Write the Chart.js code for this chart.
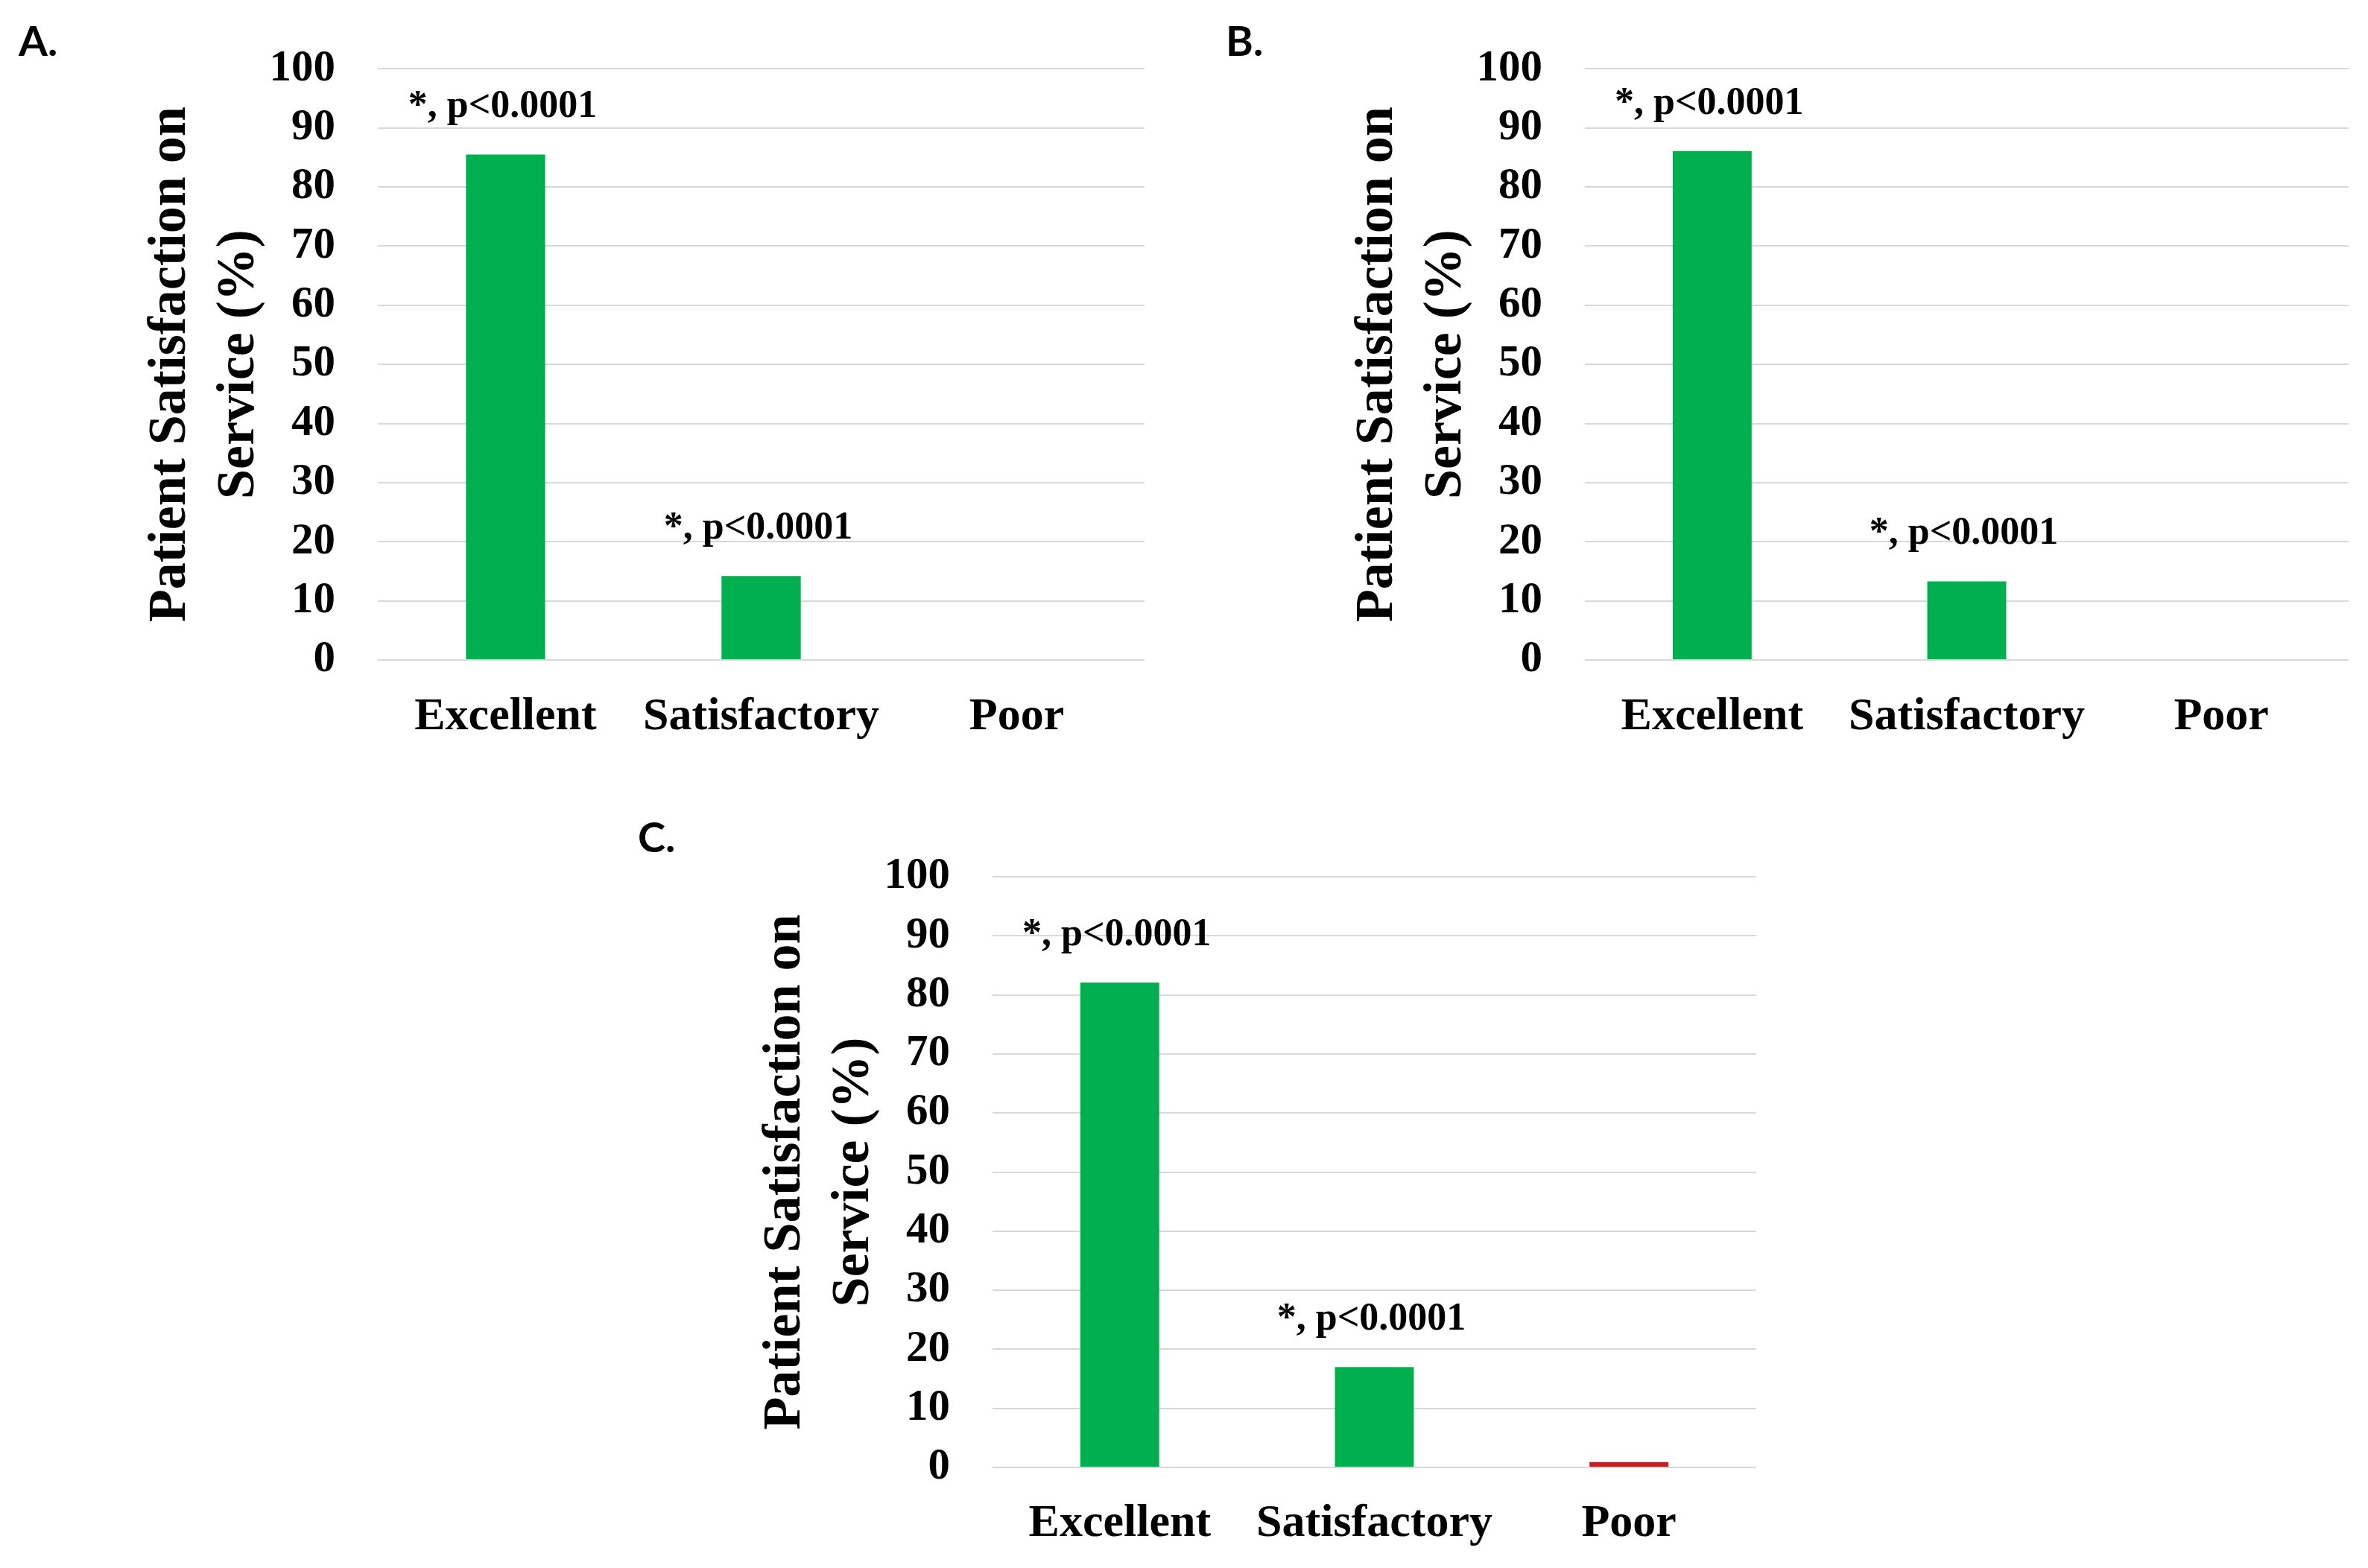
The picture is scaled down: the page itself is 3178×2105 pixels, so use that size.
<!DOCTYPE html>
<html>
<head>
<meta charset="utf-8">
<script src="https://cdn.jsdelivr.net/npm/chart.js@4.4.1/dist/chart.umd.min.js"></script>
<style>
  html, body { margin: 0; padding: 0; background: #ffffff; }
  body { width: 3178px; height: 2105px; position: relative; overflow: hidden; }
  canvas { position: absolute; }
</style>
</head>
<body>
<canvas id="chartA" width="1590" height="1050" style="left:0px;top:0px;width:1590px;height:1050px"></canvas>
<canvas id="chartB" width="1588" height="1050" style="left:1590px;top:0px;width:1588px;height:1050px"></canvas>
<canvas id="chartC" width="1600" height="1055" style="left:800px;top:1050px;width:1600px;height:1055px"></canvas>
<script>
// data
var categories = ['Excellent', 'Satisfactory', 'Poor'];
var valuesA = [85.5, 14.2, 0];
var valuesB = [86.1, 13.3, 0];
var valuesC = [82.1, 17.0, 0.9];
var barColors = ['#00b050', '#00b050', '#c81e1e'];
var pLabels = ['*, p<0.0001', '*, p<0.0001', ''];
var yTitle = ['Patient Satisfaction on', 'Service (%)'];

var serif = "'Times New Roman', 'Liberation Serif', serif";

// draws the p-value labels above bars and the panel letter
var extrasPlugin = {
    id: 'extras',
    afterDatasetsDraw: function (chart, args, opts) {
        var ctx = chart.ctx;
        var meta = chart.getDatasetMeta(0);
        ctx.save();
        ctx.fillStyle = '#000000';
        ctx.font = 'bold 52px ' + serif;
        ctx.textAlign = 'center';
        ctx.textBaseline = 'alphabetic';
        meta.data.forEach(function (bar, i) {
            if (pLabels[i]) {
                ctx.fillText(pLabels[i], bar.x - 4, bar.y - 50);
            }
        });
        ctx.font = "bold 56px Lato, 'Open Sans', sans-serif";
        ctx.textAlign = 'left';
        ctx.fillText(opts.letter, opts.lx, opts.ly);
        ctx.restore();
    }
};

function makeChart(id, values, o) {
    var ctx = document.getElementById(id).getContext('2d');
    return new Chart(ctx, {
        type: 'bar',
        data: {
            labels: categories,
            datasets: [{
                data: values,
                backgroundColor: barColors,
                borderWidth: 0,
                categoryPercentage: 1,
                barPercentage: 0.31
            }]
        },
        options: {
            responsive: false,
            animation: false,
            devicePixelRatio: 1,
            layout: {
                padding: { top: o.top, right: o.right, bottom: 0, left: 0 }
            },
            plugins: {
                legend: { display: false },
                tooltip: { enabled: false },
                extras: { letter: o.letter, lx: o.lx, ly: o.ly }
            },
            scales: {
                x: {
                    grid: { display: false },
                    border: { display: false },
                    ticks: {
                        color: '#000000',
                        padding: o.xPad,
                        font: { family: serif, size: 62, weight: 'bold' }
                    },
                    afterFit: function (scale) { scale.height = o.xHeight; }
                },
                y: {
                    min: 0,
                    max: 100,
                    border: { display: false },
                    grid: { color: '#d9d9d9', lineWidth: 2, drawTicks: false },
                    ticks: {
                        stepSize: 10,
                        color: '#000000',
                        padding: 57,
                        font: { family: serif, size: 59, weight: 'bold' }
                    },
                    title: {
                        display: true,
                        text: yTitle,
                        color: '#000000',
                        padding: { top: o.yWidth - 324, bottom: 0 },
                        font: { family: serif, size: 72, weight: 'bold', lineHeight: 1.28 }
                    },
                    afterFit: function (scale) { scale.width = o.yWidth; }
                }
            }
        },
        plugins: [extrasPlugin]
    });
}

makeChart('chartA', valuesA, {
    top: 88, right: 54, yWidth: 507, xHeight: 164, xPad: 32,
    letter: 'A.', lx: 25, ly: 75
});
makeChart('chartB', valuesB, {
    top: 88, right: 26, yWidth: 537, xHeight: 164, xPad: 32,
    letter: 'B.', lx: 55, ly: 75
});
makeChart('chartC', valuesC, {
    top: 127, right: 43, yWidth: 532, xHeight: 135, xPad: 31,
    letter: 'C.', lx: 56, ly: 94
});
</script>
</body>
</html>
